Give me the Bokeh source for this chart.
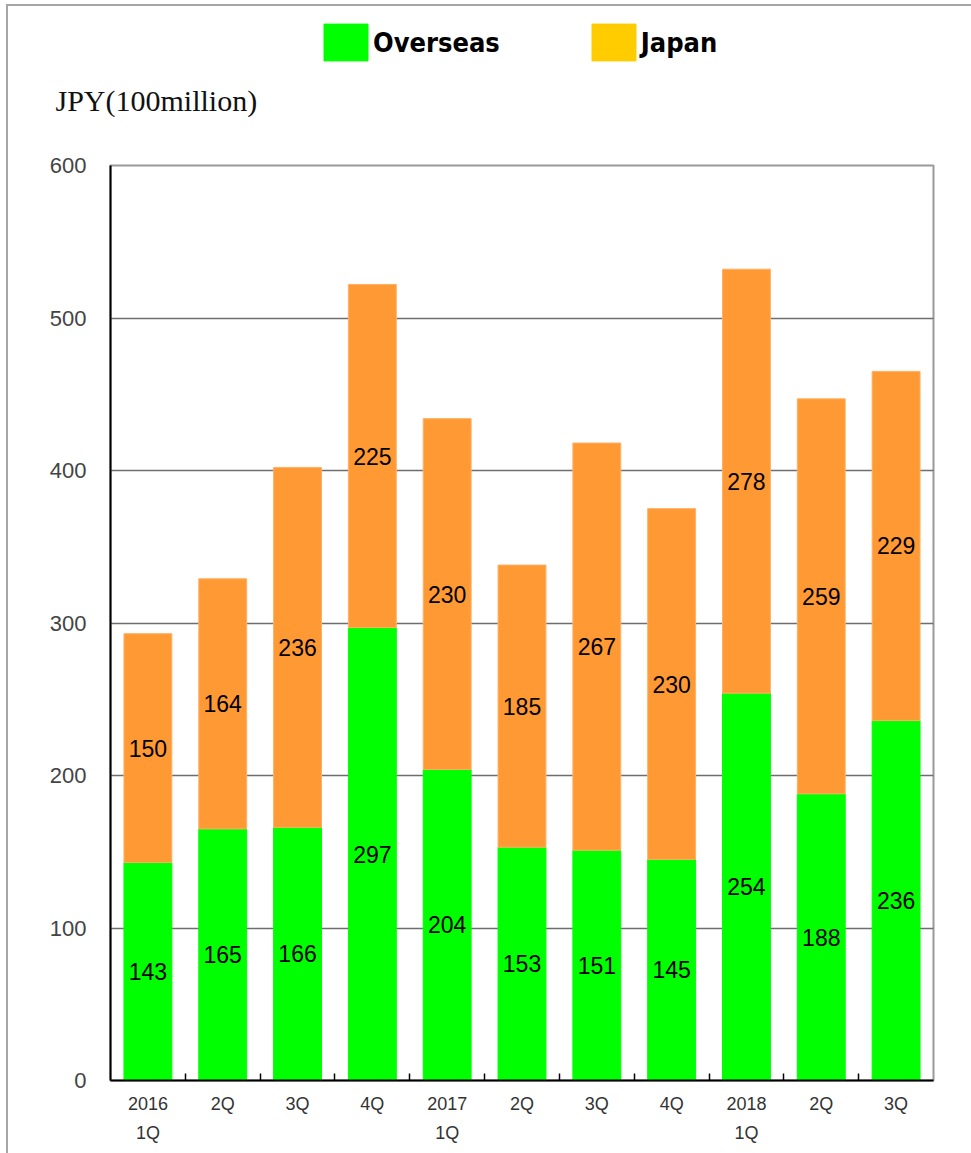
from bokeh.plotting import figure
from bokeh.layouts import column
from bokeh.models import Range1d, FixedTicker, Label, Legend, LegendItem, ColumnDataSource
from bokeh.core.properties import value
from bokeh.embed import file_html
from bokeh.resources import INLINE

quarters = ["2016\n1Q", "2Q", "3Q", "4Q", "2017\n1Q", "2Q", "3Q", "4Q", "2018\n1Q", "2Q", "3Q"]
overseas = [143, 165, 166, 297, 204, 153, 151, 145, 254, 188, 236]
japan = [150, 164, 236, 225, 230, 185, 267, 230, 278, 259, 229]
y_ticks = [0, 100, 200, 300, 400, 500, 600]
series_names = ["Overseas", "Japan"]
legend_colors = ["#00FF00", "#FFCC00"]

xs = list(range(len(quarters)))
totals = [o + j for o, j in zip(overseas, japan)]
src = ColumnDataSource(dict(
    x=xs, o=overseas, t=totals,
    omid=[o / 2 for o in overseas],
    jmid=[o + j / 2 for o, j in zip(overseas, japan)],
    otxt=[str(v) for v in overseas],
    jtxt=[str(v) for v in japan],
))

HEAD_H = 143
W = 963

# ---- header with legend and unit label ----
head = figure(width=W, height=HEAD_H, x_range=Range1d(0, W), y_range=Range1d(0, HEAD_H),
              output_backend="svg", toolbar_location=None, min_border=0,
              x_axis_location=None, y_axis_location=None)
try:
    head.frame_align = False
except Exception:
    pass
head.xgrid.grid_line_color = None
head.ygrid.grid_line_color = None
head.outline_line_color = None
# legend-only renderers (kept far outside the visible range)
dummies = [head.vbar(x=[-5000], top=[-5000], bottom=[-5001], width=1, fill_color=c, line_color=c)
           for c in legend_colors]
legend = Legend(items=[LegendItem(label=n, renderers=[r]) for n, r in zip(series_names, dummies)],
                orientation="horizontal", location=(310, 84), glyph_width=55, glyph_height=46,
                label_text_font="DejaVu Sans Condensed", label_text_font_style="bold",
                label_text_font_size="27px", label_text_color="black",
                label_standoff=0, spacing=86, padding=0, margin=0,
                border_line_color=None, background_fill_alpha=0, label_height=46)
head.add_layout(legend)
head.add_layout(Label(x=47, y=49, text="JPY(100million)", text_font="Liberation Serif",
                      text_font_size="30px", text_baseline="middle", text_color="#111111"))

# ---- main chart ----
p = figure(width=W, height=1147 - HEAD_H, x_range=Range1d(-0.5, 10.5), y_range=Range1d(0, 600),
           output_backend="svg", toolbar_location=None,
           min_border_left=102, min_border_right=38, min_border_top=16, min_border_bottom=73)

p.vbar(x="x", top="o", bottom=0, width=0.64, fill_color="#00FF00", line_color="#00FF00", source=src)
p.vbar(x="x", top="t", bottom="o", width=0.64, fill_color="#FF9933", line_color="#FFB066", source=src)

p.text(x="x", y="omid", text="otxt", source=src, text_align="center", text_baseline="middle",
       text_font=value("Liberation Sans"), text_font_size="23px", text_color="black")
p.text(x="x", y="jmid", text="jtxt", source=src, text_align="center", text_baseline="middle",
       text_font=value("Liberation Sans"), text_font_size="23px", text_color="black")

p.xaxis.ticker = FixedTicker(ticks=xs, minor_ticks=[i + 0.5 for i in range(len(xs) - 1)])
p.xaxis.major_label_overrides = {i: q for i, q in zip(xs, quarters)}
p.xaxis.major_tick_line_color = None
p.xaxis.minor_tick_in = 7
p.xaxis.minor_tick_out = 0
p.xaxis.minor_tick_line_color = "black"
p.xaxis.minor_tick_line_width = 1.5
p.xaxis.axis_line_color = "black"
p.xaxis.axis_line_width = 2
p.xaxis.major_label_text_font = "Liberation Sans"
p.xaxis.major_label_text_font_size = "18px"
p.xaxis.major_label_text_color = "#333333"
p.xaxis.major_label_text_line_height = 1.45
p.xaxis.major_label_standoff = 7

p.yaxis.ticker = FixedTicker(ticks=y_ticks)
p.yaxis.major_tick_line_color = None
p.yaxis.minor_tick_line_color = None
p.yaxis.axis_line_color = "black"
p.yaxis.axis_line_width = 2
p.yaxis.major_label_text_font = "Liberation Sans"
p.yaxis.major_label_text_font_size = "22px"
p.yaxis.major_label_text_color = "#444444"
p.yaxis.major_label_standoff = 18

p.xgrid.grid_line_color = None
p.ygrid.ticker = FixedTicker(ticks=y_ticks)
p.ygrid.grid_line_color = "#6e6e6e"
p.ygrid.grid_line_width = 1.5
p.outline_line_color = "#999999"
p.outline_line_width = 2

layout = column(head, p, spacing=0)
layout.styles = {"border-top": "2px solid #a6a6a6", "border-left": "2px solid #a6a6a6",
                 "margin-top": "4px", "margin-left": "6px"}

open("out.html", "w").write(file_html(layout, INLINE))
